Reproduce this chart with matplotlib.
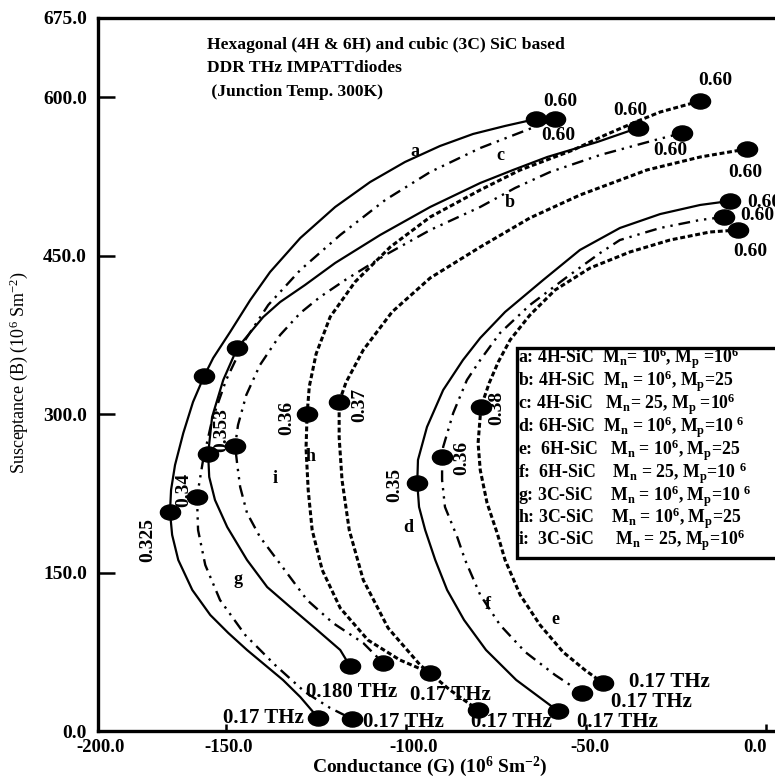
import matplotlib
matplotlib.use('Agg')
import matplotlib.pyplot as plt
import matplotlib.path as mpath
from matplotlib.patches import Rectangle
from matplotlib.transforms import Affine2D

plt.rcParams['font.family'] = ['Liberation Serif', 'DejaVu Serif']
plt.rcParams['font.weight'] = 'bold'
plt.rcParams['mathtext.fontset'] = 'custom'
plt.rcParams['mathtext.rm'] = 'Liberation Serif'
plt.rcParams['mathtext.bf'] = 'Liberation Serif:bold'
plt.rcParams['mathtext.default'] = 'regular'

# admittance curves: conductance G and susceptance B (10^6 S/m^2)
# 4H-SiC
a_G = [-63.9, -72.5, -81.4, -90.6, -100.3, -110.0, -119.7, -129.4, -137.8, -143.3,
       -148.9, -153.6, -156.1, -159.2, -161.9, -164.2, -165.3, -165.6, -165.0, -163.3,
       -159.4, -154.4, -149.4, -144.2, -139.2, -134.2, -129.4, -124.4]
a_B = [579.4, 572.8, 565.2, 553.8, 538.7, 519.7, 496.1, 466.7, 434.5, 408.0,
       377.7, 353.1, 336.1, 311.5, 282.1, 251.8, 228.2, 207.3, 185.6, 161.9,
       133.5, 109.8, 92.8, 76.7, 62.5, 48.3, 32.2, 12.3]
a_marks = [0, 12, 17, 27]

b_G = [-5.3, -18.3, -33.1, -51.7, -65.6, -79.4, -93.3, -103.9, -111.9, -116.7,
       -118.6, -118.6, -117.8, -115.8, -111.9, -105.0, -96.1, -87.8, -80.0]
b_B = [551.0, 543.4, 531.1, 507.4, 485.7, 458.2, 428.9, 396.7, 360.7, 330.0,
       311.5, 278.0, 237.6, 190.3, 143.0, 97.5, 62.5, 38.8, 19.9]
b_marks = [0, 10, 18]

c_G = [-58.6, -65.0, -79.4, -93.3, -105.8, -118.3, -129.4, -138.3, -144.7, -150.0,
       -153.9, -156.4, -158.1, -157.8, -155.8, -151.7, -144.7, -136.4, -128.1, -121.1, -115.0]
c_B = [579.4, 570.9, 551.9, 529.2, 502.7, 469.6, 436.4, 403.3, 370.2, 332.3,
       294.4, 256.6, 221.5, 190.3, 157.2, 124.0, 90.9, 62.5, 36.9, 21.8, 11.4]
c_marks = [0, 12, 20]

# 6H-SiC
d_G = [-10.0, -18.3, -29.4, -40.6, -51.7, -61.9, -72.5, -79.4, -84.2, -89.7,
       -94.2, -96.7, -96.9, -96.4, -94.7, -91.9, -88.6, -83.9, -77.8, -69.4, -57.8]
d_B = [501.8, 498.0, 489.4, 476.2, 455.4, 427.0, 396.7, 372.1, 351.2, 322.8,
       287.8, 256.6, 234.8, 212.1, 190.3, 161.9, 133.5, 105.1, 76.7, 48.3, 18.9]
d_marks = [0, 12, 20]

e_G = [-7.8, -15.6, -26.7, -37.8, -48.9, -58.6, -65.6, -71.1, -74.4, -76.9,
       -79.2, -80.0, -79.4, -77.5, -74.7, -72.5, -68.3, -62.8, -56.4, -50.3, -45.3]
e_B = [474.3, 472.4, 464.8, 453.5, 438.3, 417.5, 393.8, 370.2, 349.3, 329.5,
       306.7, 272.6, 247.1, 215.8, 187.4, 161.9, 128.8, 100.4, 74.8, 57.7, 45.4]
e_marks = [0, 10, 20]

f_G = [-11.7, -18.3, -29.4, -40.6, -46.1, -55.3, -65.6, -73.9, -79.4, -83.1,
       -86.9, -89.7, -90.0, -90.0, -89.2, -85.8, -83.6, -79.4, -73.9, -66.9, -58.6, -51.1]
f_B = [486.6, 483.8, 476.2, 464.8, 452.5, 429.8, 403.3, 376.8, 351.2, 332.3,
       301.1, 268.9, 259.4, 237.6, 212.1, 183.7, 161.9, 128.8, 100.4, 74.8, 53.0, 36.0]
f_marks = [0, 12, 21]

# 3C-SiC
g_G = [-35.6, -46.9, -60.8, -70.3, -79.4, -93.3, -107.2, -119.7, -128.1, -135.0,
       -139.7, -146.9, -150.8, -153.9, -155.0, -154.7, -153.1, -149.7, -144.2, -138.6,
       -132.2, -124.7, -118.3, -115.6]
g_B = [570.9, 557.6, 543.4, 531.1, 518.8, 496.1, 469.6, 443.1, 422.2, 406.1,
       391.9, 362.6, 332.3, 297.3, 262.2, 240.5, 218.7, 193.1, 161.9, 136.3,
       117.4, 95.6, 76.7, 61.5]
g_marks = [0, 11, 14, 23]

h_G = [-18.3, -29.4, -35.6, -44.7, -53.6, -68.3, -79.4, -93.3, -104.4, -114.2,
       -121.1, -125.0, -126.9, -127.5, -127.8, -127.2, -126.1, -123.3, -118.3, -110.6,
       -101.7, -93.3]
h_B = [596.4, 586.0, 577.5, 564.2, 550.0, 531.1, 512.2, 486.6, 458.2, 425.1,
       392.0, 357.0, 326.0, 300.1, 268.0, 228.2, 190.3, 152.4, 116.4, 86.1,
       67.2, 54.9]
h_marks = [0, 13, 21]

i_G = [-23.3, -30.8, -46.1, -60.0, -69.7, -79.4, -93.3, -105.8, -116.9, -123.9,
       -129.4, -135.0, -140.6, -144.4, -146.7, -147.5, -146.9, -146.1, -144.2, -140.6,
       -135.8, -127.5, -120.3, -111.9, -106.4]
i_B = [566.1, 559.5, 545.3, 529.2, 514.1, 496.1, 474.3, 450.6, 427.0, 410.9,
       395.7, 374.9, 346.5, 318.1, 289.7, 269.8, 251.8, 231.0, 206.4, 183.7,
       161.9, 124.0, 102.2, 83.3, 64.4]
i_marks = [0, 15, 24]

legend_lines = [
    'a: 4H-SiC  M$_n$= 10$^6$, M$_p$ =10$^6$',
    'b: 4H-SiC  M$_n$ = 10$^6$, M$_p$=25',
    'c: 4H-SiC   M$_n$= 25, M$_p$ =10$^6$',
    'd: 6H-SiC  M$_n$ = 10$^6$, M$_p$=10 $^6$',
    'e:  6H-SiC   M$_n$ = 10$^6$, M$_p$=25',
    'f:  6H-SiC    M$_n$ = 25, M$_p$=10 $^6$',
    'g: 3C-SiC    M$_n$ = 10$^6$, M$_p$=10 $^6$',
    'h: 3C-SiC    M$_n$ = 10$^6$, M$_p$=25',
    'i:  3C-SiC     M$_n$ = 25, M$_p$=10$^6$',
]

title_lines = ['Hexagonal (4H & 6H) and cubic (3C) SiC based',
               'DDR THz IMPATTdiodes',
               ' (Junction Temp. 300K)']

# (text, G, B, rotation, ha, size)
freq_labels = [
    ('0.60', -57.2, 595.5, 0, 'center', 14), ('0.60', -57.8, 564.2, 0, 'center', 14),
    ('0.60', -37.8, 587.9, 0, 'center', 14), ('0.60', -14.2, 616.3, 0, 'center', 14),
    ('0.60', -26.7, 550.0, 0, 'center', 14), ('0.60', -5.8, 529.2, 0, 'center', 14),
    ('0.60', -5.3, 500.8, 0, 'left', 14), ('0.60', -7.2, 487.6, 0, 'left', 14),
    ('0.60', -4.4, 453.5, 0, 'center', 14),
    ('0.17 THz', -139.7, 12.3, 0, 'center', 15), ('0.17 THz', -100.8, 8.5, 0, 'center', 15),
    ('0.180 THz', -115.0, 36.9, 0, 'center', 15), ('0.17 THz', -87.8, 34.1, 0, 'center', 15),
    ('0.17 THz', -70.6, 8.5, 0, 'center', 15), ('0.17 THz', -41.4, 8.5, 0, 'center', 15),
    ('0.17 THz', -31.7, 27.5, 0, 'center', 15), ('0.17 THz', -26.7, 46.4, 0, 'center', 15),
    ('0.325', -171.7, 180.8, 90, 'center', 14), ('0.34', -161.9, 228.2, 90, 'center', 14),
    ('0.353', -151.1, 285.0, 90, 'center', 14), ('0.36', -133.1, 296.3, 90, 'center', 14),
    ('0.37', -112.8, 308.6, 90, 'center', 14), ('0.35', -103.1, 232.9, 90, 'center', 14),
    ('0.36', -84.4, 258.4, 90, 'center', 14), ('0.38', -74.7, 305.8, 90, 'center', 14),
]

curve_letters = [('a', -97.5, 548.5), ('c', -73.9, 545.3), ('b', -71.1, 499.9),
                 ('h', -126.4, 259.4), ('i', -136.4, 239.5), ('g', -146.7, 143.0),
                 ('d', -99.4, 193.1), ('f', -77.2, 119.3), ('e', -58.6, 105.1)]

x_ticks = [-185.6, -150, -100, -50, 0]
x_ticklabels = ['-200.0', '-150.0', '-100.0', '-50.0', '0.0']
x_label_pos = [-185.0, -149.4, -97.8, -48.9, -3.1]
y_ticks = [0, 150, 300, 450, 600, 675]

solid = dict(ls='-', lw=1.6)
dashdotdot = dict(lw=1.7, dashes=(5, 2.5, 1, 2.5, 1, 2.5))
shortdash = dict(lw=2.2, dashes=(1.6, 0.9))

# slightly flattened filled ellipse for the frequency points
blob = mpath.Path.unit_circle().transformed(Affine2D().scale(1.0, 0.75))

fig = plt.figure(figsize=(7.75, 7.79), dpi=100)
ax = fig.add_axes([98 / 775, 48 / 779, 740 / 775, 713 / 779])

curves = [(a_G, a_B, solid, a_marks), (b_G, b_B, shortdash, b_marks),
          (c_G, c_B, dashdotdot, c_marks), (d_G, d_B, solid, d_marks),
          (e_G, e_B, shortdash, e_marks), (f_G, f_B, dashdotdot, f_marks),
          (g_G, g_B, solid, g_marks), (h_G, h_B, shortdash, h_marks),
          (i_G, i_B, dashdotdot, i_marks)]
for G, B, style, marks in curves:
    ax.plot(G, B, color='black', marker=blob, markevery=marks, ms=14.5,
            mfc='black', mec='black', solid_joinstyle='round', clip_on=False, **style)

for txt, x, y, rot, ha, size in freq_labels:
    ax.text(x, y, txt, rotation=rot, ha=ha, va='center', fontsize=size,
            clip_on=False, zorder=4)

for txt, x, y in curve_letters:
    ax.text(x, y, txt, ha='center', va='center', fontsize=13)

for k, line in enumerate(title_lines):
    ax.text(-155.3, [649.4, 627.7, 605.0][k], line, ha='left', va='center', fontsize=12.6)

# legend box, running off the right edge
ax.add_patch(Rectangle((0.566, 0.2426), 0.6, 0.2945, transform=ax.transAxes,
                       fc='white', ec='black', lw=2.4, clip_on=False, zorder=5))
legend_y = [358, 381, 404, 427, 450, 473, 496, 518, 540]
for line, py in zip(legend_lines, legend_y):
    ax.text(0.5676, (731 - py) / 713, line, transform=ax.transAxes, ha='left',
            va='center', fontsize=12.8, zorder=6, clip_on=False)

ax.set_xlim(-185.6, 20)
ax.set_ylim(0, 675)
ax.set_xticks(x_ticks)
ax.set_xticklabels([])
for pos, lbl in zip(x_label_pos, x_ticklabels):
    ax.text(pos, -0.011, lbl, transform=ax.get_xaxis_transform(), ha='center',
            va='top', fontsize=13.5, clip_on=False)
ax.set_yticks(y_ticks)
ax.set_yticklabels([f'{v:.1f}' for v in y_ticks])
ax.tick_params(axis='y', direction='in', length=12, width=1.8, pad=8, labelsize=14)
ax.tick_params(axis='x', direction='in', length=5, width=1.8)
for side in ['left', 'bottom', 'top']:
    ax.spines[side].set_linewidth(2.4)
ax.spines['right'].set_visible(False)

fig.text(430 / 775, 1 - 767 / 779, 'Conductance (G) (10$^6$ Sm$^{-2}$)',
         ha='center', va='center', fontsize=14)
fig.text(19 / 775, 1 - 373 / 779, 'Susceptance (B) (10$^6$ Sm$^{-2}$)',
         rotation=90, ha='center', va='center', fontsize=13, fontweight='normal')

fig.savefig('out.png', dpi=100)
